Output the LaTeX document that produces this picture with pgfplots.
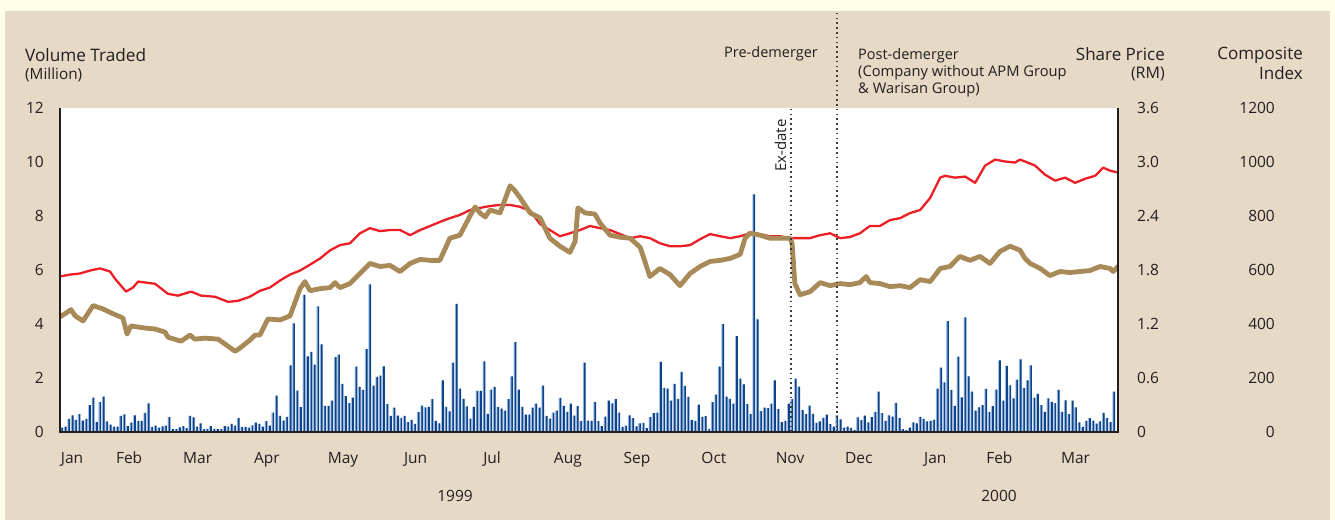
\documentclass[border=0pt]{standalone}
\usepackage{pgfplots}
\usepackage{pgfplotstable}
\pgfplotsset{compat=1.18}
\usepackage{fontspec}
\setmainfont{Open Sans}
\definecolor{beige}{RGB}{230,218,198}
\definecolor{paleyellow}{RGB}{255,254,230}
\definecolor{barblue}{RGB}{12,68,140}
\definecolor{barlight}{RGB}{165,192,226}
\definecolor{pricebrown}{RGB}{168,138,88}
\definecolor{indexred}{RGB}{236,30,38}
\definecolor{axisdark}{RGB}{35,31,32}
\definecolor{dotgray}{RGB}{60,60,60}

\pgfplotstableread[row sep=\\]{
vol\\
0.16\\0.2\\0.49\\0.62\\0.45\\0.66\\0.42\\0.49\\1.0\\1.27\\
0.37\\1.11\\1.31\\0.39\\0.27\\0.2\\0.2\\0.6\\0.65\\0.22\\
0.35\\0.62\\0.41\\0.41\\0.71\\1.06\\0.19\\0.24\\0.16\\0.21\\
0.24\\0.55\\0.11\\0.11\\0.17\\0.22\\0.14\\0.6\\0.54\\0.2\\
0.32\\0.11\\0.12\\0.22\\0.12\\0.11\\0.11\\0.22\\0.2\\0.3\\
0.24\\
0.51\\0.19\\0.19\\0.16\\0.25\\0.35\\0.3\\0.2\\0.4\\0.24\\
0.72\\1.35\\0.6\\0.42\\0.56\\2.47\\4.02\\1.53\\0.92\\5.08\\
2.8\\2.97\\2.5\\4.65\\3.25\\0.97\\0.97\\1.16\\2.77\\2.87\\
1.78\\1.33\\1.07\\1.27\\2.42\\1.67\\1.56\\3.07\\5.47\\1.72\\
2.04\\2.09\\2.43\\1.03\\0.6\\0.9\\0.61\\0.52\\0.6\\0.37\\
0.45\\
0.3\\0.74\\0.98\\0.91\\0.93\\1.22\\0.41\\0.32\\1.91\\0.93\\
0.76\\2.57\\4.75\\1.61\\1.23\\0.95\\0.5\\0.93\\1.52\\1.52\\
2.62\\0.67\\1.57\\1.67\\0.92\\0.87\\0.79\\1.22\\2.06\\3.33\\
1.57\\0.93\\0.64\\0.64\\0.9\\1.05\\0.9\\1.72\\0.6\\0.5\\
0.72\\0.79\\1.26\\0.97\\0.75\\1.05\\0.61\\0.96\\0.4\\2.57\\
0.42\\
0.41\\1.11\\0.4\\0.22\\0.57\\1.16\\1.06\\1.22\\0.72\\0.19\\
0.24\\0.62\\0.51\\0.21\\0.32\\0.34\\0.14\\0.55\\0.7\\0.72\\
2.6\\1.63\\1.61\\1.16\\1.78\\1.23\\2.23\\1.71\\1.3\\0.45\\
0.41\\1.01\\0.56\\0.59\\0.12\\1.11\\1.38\\2.42\\4.0\\1.31\\
1.23\\1.05\\3.55\\1.98\\1.76\\1.03\\0.67\\8.8\\4.17\\0.77\\
0.9\\
0.88\\1.05\\1.91\\0.85\\0.37\\0.41\\1.05\\1.22\\1.98\\1.68\\
0.81\\0.66\\0.98\\0.67\\0.34\\0.39\\0.52\\0.64\\0.29\\0.2\\
0.62\\0.47\\0.16\\0.2\\0.15\\0.07\\0.54\\0.44\\0.61\\0.36\\
0.55\\0.75\\1.5\\0.7\\0.41\\0.62\\0.57\\1.08\\0.51\\0.11\\
0.07\\0.16\\0.36\\0.32\\0.56\\0.49\\0.39\\0.41\\0.45\\1.61\\
2.38\\1.84\\4.11\\1.56\\0.97\\2.79\\1.28\\4.25\\2.06\\1.5\\
0.79\\0.91\\1.0\\1.6\\0.75\\0.96\\1.57\\2.65\\1.16\\2.45\\
1.73\\1.25\\1.94\\2.69\\1.63\\1.91\\2.47\\1.27\\1.41\\1.0\\
0.75\\1.25\\1.12\\1.07\\1.56\\0.75\\1.17\\0.66\\1.16\\0.91\\
0.36\\0.19\\0.41\\0.51\\0.42\\0.31\\0.39\\0.71\\0.51\\0.37\\
1.5\\
}\voldata

\pgfplotstableread{
day price
-0.6 1.279
1.2 1.323
2.6 1.360
3.8 1.290
6.1 1.234
9.0 1.405
11.8 1.368
14.2 1.323
17.6 1.267
18.8 1.088
19.9 1.178
24.0 1.155
26.9 1.144
29.8 1.110
30.6 1.054
34.4 1.009
37.0 1.077
38.4 1.032
41.3 1.043
45.1 1.032
48.0 0.953
50.0 0.897
51.4 0.931
54.3 1.021
55.8 1.077
57.2 1.077
59.5 1.256
63.0 1.245
65.9 1.290
68.8 1.593
70.2 1.671
71.7 1.570
74.6 1.593
77.5 1.604
78.9 1.660
80.3 1.604
83.2 1.649
86.1 1.761
89.0 1.873
91.9 1.839
94.8 1.851
97.7 1.783
100.6 1.873
103.5 1.918
106.4 1.907
109.2 1.907
112.1 2.153
115.0 2.187
117.9 2.400
119.4 2.501
120.8 2.434
122.3 2.389
123.7 2.467
126.6 2.434
129.5 2.736
130.9 2.680
132.4 2.602
135.3 2.434
138.2 2.378
141.0 2.153
143.9 2.064
146.8 1.996
148.3 2.120
149.1 2.490
151.2 2.434
154.0 2.422
155.5 2.321
158.4 2.187
161.3 2.164
164.2 2.153
167.1 2.052
169.9 1.727
172.8 1.817
175.7 1.750
178.6 1.626
181.5 1.761
184.4 1.839
187.3 1.895
190.2 1.907
193.1 1.929
196.0 1.974
197.4 2.153
198.8 2.209
201.7 2.187
204.6 2.153
207.5 2.153
210.4 2.153
211.0 2.097
211.8 1.649
213.3 1.525
216.2 1.559
219.1 1.660
222.0 1.626
224.9 1.649
227.7 1.637
230.6 1.660
232.4 1.727
233.5 1.660
236.4 1.649
239.3 1.615
242.2 1.626
245.1 1.604
248.0 1.693
250.9 1.671
253.8 1.817
256.6 1.839
259.5 1.951
262.4 1.907
265.3 1.951
268.2 1.873
271.1 2.007
274.0 2.064
276.9 2.019
278.3 1.929
279.8 1.873
282.7 1.817
285.5 1.738
288.4 1.783
291.3 1.772
294.2 1.783
297.1 1.794
300.0 1.839
302.9 1.817
303.8 1.783
305.2 1.839
}\pricedata

\pgfplotstableread{
day ci
-0.6 576
2.3 583
5.2 587
8.1 598
11.0 606
13.9 594
15.3 568
18.5 520
20.5 535
22.0 557
26.9 549
30.6 512
33.5 505
37.3 520
40.2 505
44.2 501
48.0 482
50.9 486
54.3 501
57.2 523
60.1 535
63.0 561
65.9 583
68.8 598
71.7 620
74.6 643
77.5 673
80.3 692
83.2 699
86.1 736
89.0 755
91.9 744
94.8 748
97.7 748
100.6 729
103.5 748
106.4 763
109.2 778
112.1 792
115.0 804
117.9 822
120.8 830
123.7 837
126.6 841
129.5 841
132.4 834
135.3 819
138.2 770
141.0 748
143.9 725
146.8 736
149.7 748
152.6 763
155.5 755
158.4 748
161.3 733
164.2 718
167.1 725
169.9 718
172.8 699
175.7 688
178.6 688
181.5 692
184.4 714
187.3 733
190.2 725
193.1 718
196.0 725
198.8 736
201.7 733
204.6 725
207.5 725
210.4 718
213.3 718
216.2 718
219.1 729
222.0 736
224.9 718
227.7 722
230.6 736
233.5 763
236.4 763
239.3 785
242.2 792
245.1 811
248.0 822
250.9 867
253.8 942
255.2 949
258.1 942
261.0 946
263.9 923
266.8 987
269.7 1009
272.5 1002
275.4 998
276.9 1009
281.2 987
284.1 953
287.0 931
289.9 942
292.8 923
295.7 938
298.6 949
300.9 979
302.9 968
305.2 961
}\cidata

\pgfplotsset{
  base/.style={
    width=1058pt, height=324pt, scale only axis,
    at={(0,0)}, anchor=south west,
    xmin=-0.58, xmax=305.2,
    axis line style={draw=none},
    major tick length=0pt,
    every tick label/.append style={font=\fontsize{15.5}{18}\selectfont, text=axisdark},
  }
}

\begin{document}
\begin{tikzpicture}[x=1pt,y=1pt]
% backgrounds (1 px of the reference = 1 pt, origin at the plot's lower left)
\fill[paleyellow] (-60,-88) rectangle (1275,432);
\fill[beige] (-55,-88) rectangle (1270,421);
\fill[white] (0,0) rectangle (1058,324);

% volume traded
\begin{axis}[base,
  ymin=0, ymax=12,
  ytick={0,2,4,6,8,10,12},
  yticklabels={0,2,4,6,8,10,12},
  yticklabel style={anchor=east, inner sep=0pt, xshift=-16pt},
  xtick={2.9,19.4,39.2,59.2,81.2,102.2,124.3,146.2,166.2,188.4,210.4,230.3,252.4,270.9,292.9},
  xticklabels={Jan,Feb,Mar,Apr,May,Jun,Jul,Aug,Sep,Oct,Nov,Dec,Jan,Feb,Mar},
  xticklabel style={anchor=base, inner sep=0pt, yshift=-31pt},
]
\addplot[ybar, bar width=2.4pt, bar shift=-0.4pt, fill=barlight, draw=none]
  table[x expr=\coordindex, y=vol]{\voldata};
\addplot[ybar, bar width=1.7pt, bar shift=0.3pt, fill=barblue, draw=none]
  table[x expr=\coordindex, y=vol]{\voldata};
\end{axis}

% composite index
\begin{axis}[base,
  ymin=0, ymax=1200,
  xtick=\empty,
  ytick={0,200,400,600,800,1000,1200},
  yticklabels={0,200,400,600,800,1000,1200},
  yticklabel pos=right,
  yticklabel style={anchor=east, inner sep=0pt, xshift=157pt},
]
\addplot[indexred, line width=2.3pt, line join=round] table[x=day, y=ci]{\cidata};
\end{axis}

% share price
\begin{axis}[base,
  ymin=0, ymax=3.6,
  xtick=\empty,
  ytick={0,0.6,1.2,1.8,2.4,3.0,3.6},
  yticklabels={0,0.6,1.2,1.8,2.4,3.0,3.6},
  yticklabel pos=right,
  yticklabel style={anchor=west, inner sep=0pt, xshift=19pt},
]
\addplot[pricebrown, line width=4.8pt, line join=round, line cap=round] table[x=day, y=price]{\pricedata};
\end{axis}

% axis frame (no top side)
\draw[axisdark, line width=2.6pt] (0,324) -- (0,0) -- (1058,0) -- (1058,324);

% demerger markers
\draw[dotgray, line width=1.6pt, dash pattern=on 1.6pt off 3.2pt] (731,0) -- (731,324);
\draw[dotgray, line width=1.6pt, dash pattern=on 1.6pt off 3.2pt] (777,0) -- (777,421);
\node[rotate=90, anchor=base west, inner sep=0pt, font=\fontsize{15}{18}\selectfont, text=axisdark] at (726,260) {Ex-date};

% header texts
\begin{scope}[every node/.style={inner sep=0pt, text=axisdark}]
\node[anchor=base west, font=\fontsize{17.2}{20}\selectfont] at (-35,370) {Volume Traded};
\node[anchor=base west, font=\fontsize{15.3}{18}\selectfont] at (-35,352) {(Million)};
\node[anchor=base east, font=\fontsize{14.5}{17}\selectfont] at (758,374) {Pre-demerger};
\node[anchor=base west, font=\fontsize{14.5}{17}\selectfont] at (798,372) {Post-demerger};
\node[anchor=base west, font=\fontsize{14.7}{17}\selectfont] at (798,355) {(Company without APM Group};
\node[anchor=base west, font=\fontsize{14.7}{17}\selectfont] at (798,338) {\& Warisan Group)};
\node[anchor=base east, font=\fontsize{17}{20}\selectfont] at (1105,371) {Share Price};
\node[anchor=base east, font=\fontsize{16}{20}\selectfont] at (1105,353) {(RM)};
\node[anchor=base east, font=\fontsize{17}{20}\selectfont] at (1243,372) {Composite};
\node[anchor=base east, font=\fontsize{17}{20}\selectfont] at (1243,352) {Index};
\node[anchor=base, font=\fontsize{15.5}{18}\selectfont] at (395,-69) {1999};
\node[anchor=base, font=\fontsize{15.5}{18}\selectfont] at (939,-69) {2000};
\end{scope}
\useasboundingbox (-60,-88) rectangle (1275,432);
\end{tikzpicture}
\end{document}
